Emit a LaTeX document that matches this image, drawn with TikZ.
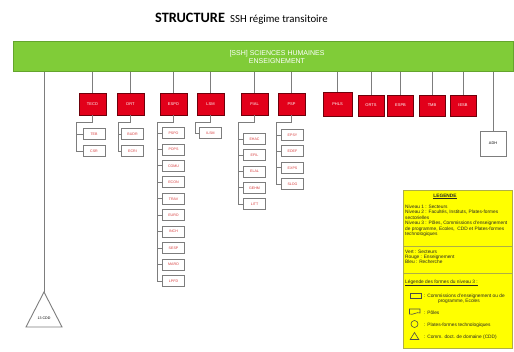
\documentclass[tikz,border=0pt]{standalone}
\usepackage{fontspec}
\setmainfont{Liberation Sans}
\newfontfamily\titlefont{Carlito}
\usetikzlibrary{calc}
\definecolor{barGreen}{RGB}{128,204,56}
\definecolor{barEdge}{RGB}{100,165,45}
\definecolor{boxRed}{RGB}{226,0,26}
\definecolor{redEdge}{RGB}{110,0,10}
\definecolor{lineGray}{RGB}{125,125,125}
\definecolor{subText}{RGB}{215,60,60}
\definecolor{legYellow}{RGB}{255,255,0}
\definecolor{legEdge}{RGB}{175,175,70}
\begin{document}
\begin{tikzpicture}[x=1pt,y=-1pt,
 conn/.style={draw=lineGray,line width=0.9pt},
 redbox/.style={draw=redEdge,fill=boxRed,line width=0.6pt,minimum width=27pt,minimum height=22pt,inner sep=0pt,text=white,font=\fontsize{4}{4.5}\selectfont},
 subbox/.style={draw=lineGray,fill=white,line width=0.8pt,minimum width=22pt,minimum height=11pt,inner sep=0pt,text=subText,font=\fontsize{3.6}{4}\selectfont},
 legtext/.style={anchor=west,inner sep=0pt,font=\fontsize{4.8}{5}\selectfont,text=black!85},
 legsym/.style={draw=black!70,line width=0.6pt},
]
\useasboundingbox (0,0) rectangle (514,352);
\fill[white] (0,0) rectangle (514,352);

% title
\node (t1) [anchor=base west,inner sep=0pt,font=\titlefont\bfseries\fontsize{14.3}{16}\selectfont] at (155,22.5) {STRUCTURE};
\node (t2) [anchor=base west,inner sep=0pt,font=\titlefont\fontsize{10.8}{12}\selectfont] at (230,22.5) {SSH régime transitoire};

% green bar
\node (bar) [draw=barEdge,fill=barGreen,line width=0.6pt,minimum width=500pt,minimum height=30pt,inner sep=0pt,anchor=north west] at (13,41) {};
\node (bartxt) [text=white,align=center,inner sep=0pt,font=\fontsize{7}{8}\selectfont] at (277,57) {[SSH] SCIENCES HUMAINES\\ENSEIGNEMENT};

% red boxes (level 2)
\node[redbox] (TECO) at (92.5,104) {TECO};
\node[redbox] (DRT)  at (130.5,104) {DRT};
\node[redbox] (ESPO) at (173.5,104) {ESPO};
\node[redbox] (LSM)  at (210.5,104) {LSM};
\node[redbox] (FIAL) at (254.5,104) {FIAL};
\node[redbox] (PSP)  at (291.5,104) {PSP};
\node[redbox,minimum width=29pt,minimum height=24pt] (PHLS) at (337.5,104) {PHLS};
\node[redbox,minimum width=26pt,minimum height=21pt] (ORTS) at (371,105.5) {ORTS};
\node[redbox,minimum width=26pt,minimum height=21pt] (ESPB) at (400.5,105.5) {ESPB};
\node[redbox,minimum width=26pt,minimum height=21pt] (TMB)  at (432,105.5) {TMB};
\node[redbox,minimum width=26pt,minimum height=21pt] (IESB) at (463,105.5) {IESB};
\node[draw=lineGray,fill=white,line width=0.8pt,minimum width=26pt,minimum height=25pt,inner sep=0pt,font=\fontsize{3.8}{4}\selectfont] (ADH) at (493,143.5) {ADH};

\foreach \n in {TECO,DRT,ESPO,LSM,FIAL,PSP,PHLS,ORTS,ESPB,TMB,IESB,ADH}
  \draw[conn] (bar.south -| \n.north) -- (\n.north);

% elbows of the level-3 columns
\coordinate (kTECO) at (76,122);
\coordinate (kDRT)  at (118,122);
\coordinate (kESPO) at (157,122);
\coordinate (kLSM)  at (195,122);
\coordinate (kFIAL) at (238,122);
\coordinate (kPSP)  at (276,122);

% level 3 boxes
\foreach \lab [count=\i] in {TEB,CSR}{
  \node[subbox] (TECO\i) at (94,{134+(\i-1)*17}) {\lab};
  \draw[conn] (TECO.south) |- (kTECO) |- (TECO\i.west);}
\foreach \lab [count=\i] in {BUDR,ECRI}{
  \node[subbox] (DRT\i) at (132.5,{134+(\i-1)*17}) {\lab};
  \draw[conn] (DRT.south) |- (kDRT) |- (DRT\i.west);}
\foreach \lab [count=\i] in {PSPO,POPS,COMU,ECON,TRAV,EURO,INCH,SESP,MARO,LPFD}{
  \node[subbox] (ESPO\i) at (173.5,{133+(\i-1)*16.45}) {\lab};
  \draw[conn] (ESPO.south) |- (kESPO) |- (ESPO\i.west);}
\foreach \lab [count=\i] in {ILSM}{
  \node[subbox] (LSM\i) at (210.5,133) {\lab};
  \draw[conn] (LSM.south) |- (kLSM) |- (LSM\i.west);}
\foreach \lab [count=\i] in {EHAC,EFIL,ELAL,GEHM,LITT}{
  \node[subbox] (FIAL\i) at (254.5,{139+(\i-1)*16.3}) {\lab};
  \draw[conn] (FIAL.south) |- (kFIAL) |- (FIAL\i.west);}
\foreach \lab [count=\i] in {EPSY,EDEF,EXPS,SLOG}{
  \node[subbox] (PSP\i) at (292.5,{135+(\i-1)*16.4}) {\lab};
  \draw[conn] (PSP.south) |- (kPSP) |- (PSP\i.west);}

% CDD triangle
\coordinate (apex) at (44,292);
\draw[conn] (bar.south -| apex) -- (apex);
\draw[conn,fill=white] (apex) -- (62,327) -- (26,327) -- cycle;
\node (cdd) [inner sep=0pt,font=\fontsize{3.6}{4}\selectfont] at (44,318) {13 CDD};

% legend
\draw[draw=legEdge,fill=legYellow,line width=0.6pt] (403,190) rectangle (512,348);
\draw[draw=legEdge,line width=0.5pt] (403,246) -- (512,246);
\draw[draw=legEdge,line width=0.5pt] (403,273) -- (512,273);
\node (lt) [inner sep=0pt,font=\fontsize{4.8}{5}\selectfont\bfseries,text=black!85] at (445,196.5) {\underline{LEGENDE}};
\node[legtext] (l1) at (405,207) {Niveau 1 : Secteurs};
\node[legtext] (l2) at (405,212.5) {Niveau 2 : Facultés, Instituts, Plates-formes};
\node[legtext] (l3) at (405,218) {sectorielles};
\node[legtext] (l4) at (405,223.5) {Niveau 3 : Pôles, Commissions d'enseignement};
\node[legtext] (l5) at (405,229) {de programme, Ecoles,\ \ CDD et Plates-formes};
\node[legtext] (l6) at (405,234.5) {technologiques};
\node[legtext] (v1) at (405,252) {Vert : Secteurs};
\node[legtext] (v2) at (405,256.8) {Rouge : Enseignement};
\node[legtext] (v3) at (405,261.6) {Bleu : Recherche};
\node[legtext] (f0) at (405,283) {\underline{Légende des formes du niveau 3 :}};
\draw[legsym] (410,293) rectangle (421,298.5);
\node[legtext] (f1) at (424,296) {: Commissions d'enseignement ou de};
\node[legtext] (f1b) at (438,301.2) {programme, Ecoles};
\draw[legsym] (409.5,309) -- (420,309) -- (420,313) .. controls (416.5,311.5) and (413,315.5) .. (409.5,314) -- cycle;
\node[legtext] (f2) at (424,313) {: Pôles};
\draw[legsym] (414.5,324) circle (3.5);
\node[legtext] (f3) at (424,325) {: Plates-formes technologiques};
\draw[legsym] (414.5,332.5) -- (418.8,339.5) -- (410.2,339.5) -- cycle;
\node[legtext] (f4) at (424,337.5) {: Comm. doct. de domaine (CDD)};
\end{tikzpicture}
\end{document}
